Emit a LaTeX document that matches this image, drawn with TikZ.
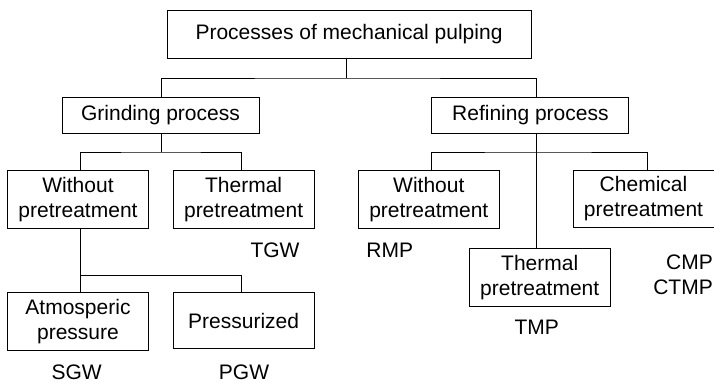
\documentclass[tikz,border=0pt]{standalone}
\usepackage{fontspec}
\setmainfont{Liberation Sans}
\usepackage{tikz}
\usetikzlibrary{positioning}

\tikzset{
  boite/.style={draw, line width=1pt, inner sep=0pt, align=center,
    minimum width=141pt, minimum height=57.6pt,
    font=\fontsize{21}{25}\selectfont},
  large/.style={boite, minimum width=197pt, minimum height=36pt},
  sigle/.style={inner sep=0pt, font=\fontsize{21}{25}\selectfont},
  trait/.style={line width=1pt}
}

\begin{document}
\begin{tikzpicture}[x=1pt,y=-1pt]
        \useasboundingbox (0,0) rectangle (714,383);

        % Niveau 1 et 2
        \node[boite, minimum width=364pt, minimum height=48pt] (pulp) at (349,34) {Processes of mechanical pulping};
        \node[large] (grind) at (160.5,115) {Grinding process};
        \node[large] (refin) at (530.4,115) {Refining process};

        % Niveau 3
        \node[boite] (sansG) at (78,199.5) {Without\\pretreatment};
        \node[boite] (thermG) at (243.6,199.5) {Thermal\\pretreatment};
        \node[boite] (sansR) at (428.8,199.5) {Without\\pretreatment};
        \node[boite] (chimR) at (643.5,199) {Chemical\\pretreatment};
        \node[boite] (thermR) at (539.7,277.2) {Thermal\\pretreatment};

        % Niveau 4
        \node[boite] (atmo) at (78,321.7) {Atmosperic\\pressure};
        \node[boite, minimum height=55.6pt] (press) at (243.6,320.5) {Pressurized};

        % Sigles
        \node[sigle] (tgw) at (275,250.3) {TGW};
        \node[sigle] (rmp) at (389.7,250.3) {RMP};
        \node[sigle, anchor=east] (cmp) at (713,262.7) {CMP};
        \node[sigle, anchor=east] (ctmp) at (713,287) {CTMP};
        \node[sigle] (tmp) at (536.7,327) {TMP};
        \node[sigle] (sgw) at (76.7,372) {SGW};
        \node[sigle] (pgw) at (244,372) {PGW};

        % Points de jonction
        \coordinate (j1) at (346,78);
        \coordinate (j2) at (161,152);
        \coordinate (j3) at (536.7,152);
        \coordinate (j4) at (80.7,275);
        \coordinate (a1) at (161,0);
        \coordinate (a2) at (536.7,0);
        \coordinate (a3) at (80.7,0);
        \coordinate (a4) at (241.3,0);
        \coordinate (a5) at (431.7,0);
        \coordinate (a6) at (647.3,0);

        % Traits
        \draw[trait] (pulp.south -| j1) -- (j1);
        \draw[trait] (grind.north -| a1) |- (j1) -| (refin.north -| a2);
        \draw[trait] (grind.south -| j2) -- (j2);
        \draw[trait] (sansG.north -| a3) |- (j2) -| (thermG.north -| a4);
        \draw[trait] (refin.south -| j3) -- (thermR.north -| j3);
        \draw[trait] (sansR.north -| a5) |- (j3) -| (chimR.north -| a6);
        \draw[trait] (sansG.south -| j4) -- (j4);
        \draw[trait] (atmo.north -| a3) |- (j4) -| (press.north -| a4);
\end{tikzpicture}
\end{document}
